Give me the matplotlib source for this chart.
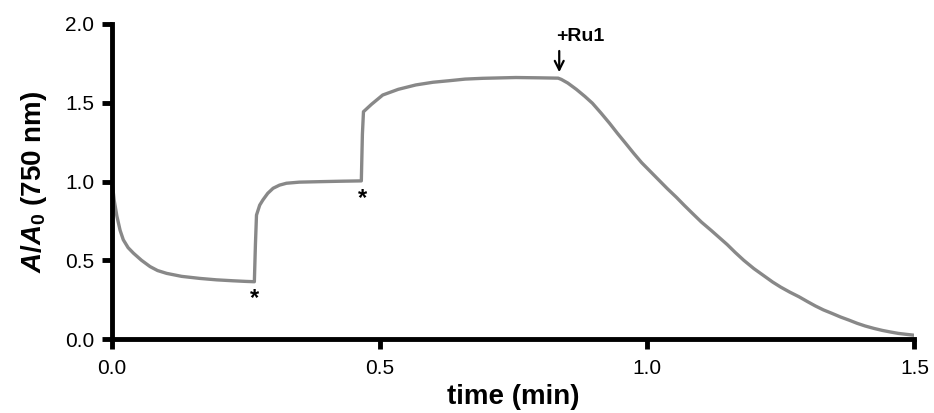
import matplotlib.pyplot as plt

plt.rcParams["font.family"] = ["Liberation Sans", "DejaVu Sans"]
plt.rcParams["mathtext.fontset"] = "custom"
plt.rcParams["mathtext.it"] = "Liberation Sans:italic:bold"
plt.rcParams["mathtext.rm"] = "Liberation Sans:bold"
plt.rcParams["mathtext.bf"] = "Liberation Sans:bold"

# Absorbance trace at 750 nm, normalised to the starting value
time_min = [
    0.000, 0.004, 0.009, 0.015, 0.021, 0.030, 0.040, 0.055, 0.071, 0.085,
    0.102, 0.130, 0.164, 0.195, 0.226, 0.250, 0.266, 0.268, 0.270, 0.276,
    0.282, 0.291, 0.301, 0.313, 0.326, 0.350, 0.388, 0.430, 0.466, 0.468,
    0.470, 0.485, 0.506, 0.535, 0.568, 0.600, 0.631, 0.660, 0.693, 0.755,
    0.800, 0.834, 0.840, 0.852, 0.868, 0.884, 0.898, 0.914, 0.930, 0.945,
    0.960, 0.975, 0.990, 1.006, 1.022, 1.038, 1.055, 1.070, 1.085, 1.102,
    1.120, 1.135, 1.150, 1.165, 1.181, 1.200, 1.221, 1.235, 1.250, 1.267,
    1.284, 1.300, 1.315, 1.330, 1.346, 1.362, 1.378, 1.393, 1.408, 1.424,
    1.440, 1.455, 1.470, 1.485, 1.498,
]
abs_ratio = [
    1.000, 0.880, 0.780, 0.690, 0.630, 0.580, 0.545, 0.500, 0.460, 0.435,
    0.417, 0.398, 0.385, 0.376, 0.370, 0.366, 0.364, 0.600, 0.787, 0.850,
    0.883, 0.925, 0.957, 0.977, 0.989, 0.996, 0.999, 1.002, 1.004, 1.300,
    1.443, 1.490, 1.549, 1.585, 1.613, 1.630, 1.640, 1.650, 1.655, 1.660,
    1.658, 1.656, 1.648, 1.625, 1.585, 1.540, 1.497, 1.435, 1.370, 1.305,
    1.243, 1.180, 1.120, 1.065, 1.010, 0.955, 0.900, 0.848, 0.798, 0.742,
    0.690, 0.645, 0.600, 0.550, 0.500, 0.447, 0.396, 0.362, 0.330, 0.298,
    0.269, 0.238, 0.210, 0.185, 0.163, 0.140, 0.120, 0.100, 0.083, 0.068,
    0.055, 0.045, 0.036, 0.030, 0.025,
]

# additions marked on the trace
star_x = [0.267, 0.468]
star_y = [0.26, 0.89]
ru_time = 0.836
ru_level = 1.656

fig = plt.figure(figsize=(9.34, 4.13), dpi=100)
ax = fig.add_axes([0.12, 0.179, 0.859, 0.763])

ax.plot(time_min, abs_ratio, color="#888888", lw=2.4, solid_joinstyle="round")

for x, y in zip(star_x, star_y):
    ax.text(x, y, "*", ha="center", va="center", fontsize=17, fontweight="bold")

ax.annotate("", xy=(ru_time, ru_level + 0.02), xytext=(ru_time, ru_level + 0.19),
            arrowprops=dict(arrowstyle="->", color="black", lw=1.6,
                            mutation_scale=16))
ax.text(ru_time - 0.006, ru_level + 0.21, "+Ru1", ha="left", va="bottom",
        fontsize=14, fontweight="bold")

ax.set_xlim(0, 1.5)
ax.set_ylim(0, 2.0)
ax.set_xticks([0.0, 0.5, 1.0, 1.5])
ax.set_yticks([0.0, 0.5, 1.0, 1.5, 2.0])
ax.xaxis.set_major_formatter(plt.FormatStrFormatter("%.1f"))
ax.yaxis.set_major_formatter(plt.FormatStrFormatter("%.1f"))

for side in ["top", "right"]:
    ax.spines[side].set_visible(False)
for side in ["left", "bottom"]:
    ax.spines[side].set_linewidth(3.5)
ax.tick_params(direction="out", length=7, width=3.5, labelsize=15)
ax.tick_params(axis="x", pad=7)
ax.tick_params(axis="y", pad=6)

ax.set_xlabel("time (min)", fontsize=20, fontweight="bold", labelpad=5)
ax.set_ylabel(r"$A/A_0$ (750 nm)", fontsize=20, fontweight="bold", labelpad=11)

plt.savefig("out.png", dpi=100)
